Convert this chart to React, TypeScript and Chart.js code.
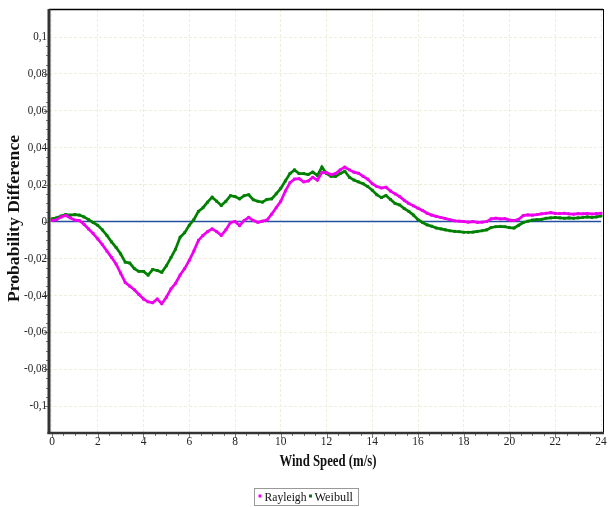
import React, { useEffect, useRef } from 'react';
import { Chart, registerables } from 'chart.js';

Chart.register(...registerables);

const windSpeed = [
  0, 0.2, 0.4, 0.6, 0.8, 1, 1.2, 1.4, 1.6, 1.8,
  2, 2.2, 2.4, 2.6, 2.8, 3, 3.2, 3.4, 3.6, 3.8,
  4, 4.2, 4.4, 4.6, 4.8, 5, 5.2, 5.4, 5.6, 5.8,
  6, 6.2, 6.4, 6.6, 6.8, 7, 7.2, 7.4, 7.6, 7.8,
  8, 8.2, 8.4, 8.6, 8.8, 9, 9.2, 9.4, 9.6, 9.8,
  10, 10.2, 10.4, 10.6, 10.8, 11, 11.2, 11.4, 11.6, 11.8,
  12, 12.2, 12.4, 12.6, 12.8, 13, 13.2, 13.4, 13.6, 13.8,
  14, 14.2, 14.4, 14.6, 14.8, 15, 15.2, 15.4, 15.6, 15.8,
  16, 16.2, 16.4, 16.6, 16.8, 17, 17.2, 17.4, 17.6, 17.8,
  18, 18.2, 18.4, 18.6, 18.8, 19, 19.2, 19.4, 19.6, 19.8,
  20, 20.2, 20.4, 20.6, 20.8, 21, 21.2, 21.4, 21.6, 21.8,
  22, 22.2, 22.4, 22.6, 22.8, 23, 23.2, 23.4, 23.6, 23.8,
  24,
];

const rayleigh = [
  0.0005, 0.001, 0.0025, 0.0033, 0.002, 0.0008, 0.0005, -0.0015, -0.004, -0.0065,
  -0.0094, -0.0125, -0.016, -0.0194, -0.023, -0.028, -0.033, -0.035, -0.037, -0.0395,
  -0.042, -0.0435, -0.044, -0.042, -0.0445, -0.041, -0.0365, -0.0335, -0.029, -0.0255,
  -0.021, -0.016, -0.0102, -0.0075, -0.0055, -0.004, -0.0055, -0.0075, -0.0045, -0.0005,
  0.0, -0.0022, 0.0005, 0.0023, 0.0005, -0.0004, 0.0002, 0.0008, 0.004, 0.0075,
  0.011, 0.0165, 0.021, 0.023, 0.0232, 0.0215, 0.022, 0.024, 0.0225, 0.0265,
  0.0265, 0.0255, 0.026, 0.028, 0.0295, 0.028, 0.0268, 0.0262, 0.0245, 0.023,
  0.0205, 0.019, 0.0182, 0.0186, 0.0165, 0.015, 0.0135, 0.0115, 0.0098, 0.0085,
  0.0072, 0.006, 0.0045, 0.0035, 0.0028, 0.0022, 0.0016, 0.001, 0.0004, 0.0002,
  0.0, -0.0003, 0.0, -0.0004, -0.0003, 0.0, 0.0015, 0.0018, 0.0015, 0.0016,
  0.0008, 0.0006, 0.0012, 0.0032, 0.0036, 0.0035, 0.0038, 0.0042, 0.0045, 0.0048,
  0.0044, 0.0043, 0.0045, 0.0042, 0.004, 0.0043, 0.0042, 0.0044, 0.0041, 0.0043,
  0.0045,
];

const weibull = [
  0.0015, 0.002, 0.003, 0.0038, 0.0035, 0.0038, 0.0035, 0.0025, 0.001, -0.0005,
  -0.002, -0.0045, -0.0075, -0.011, -0.014, -0.0175, -0.022, -0.0225, -0.0255, -0.027,
  -0.027, -0.029, -0.026, -0.0265, -0.0275, -0.024, -0.0195, -0.015, -0.0085, -0.006,
  -0.002, 0.001, 0.0055, 0.0075, 0.0105, 0.0132, 0.011, 0.0087, 0.011, 0.014,
  0.0135, 0.0123, 0.014, 0.0145, 0.0118, 0.011, 0.0105, 0.012, 0.0123, 0.015,
  0.018, 0.022, 0.026, 0.028, 0.026, 0.026, 0.0255, 0.0268, 0.025, 0.0295,
  0.026, 0.0245, 0.0245, 0.026, 0.0273, 0.024, 0.0225, 0.0215, 0.0205, 0.019,
  0.017, 0.0145, 0.013, 0.0141, 0.012, 0.0098, 0.009, 0.007, 0.0055, 0.0035,
  0.001, -0.0005, -0.0018, -0.0025, -0.0035, -0.004, -0.0045, -0.005, -0.0053, -0.0055,
  -0.0058, -0.0058, -0.0057, -0.0053, -0.005, -0.0045, -0.0032, -0.0028, -0.0026, -0.0028,
  -0.0033, -0.0035, -0.002, -0.0005, 0.0002, 0.0008, 0.001, 0.0012, 0.0018, 0.002,
  0.0022, 0.002, 0.0018, 0.002, 0.0018, 0.002, 0.0022, 0.0025, 0.0022, 0.0025,
  0.003,
];

const xTicks = [0, 2, 4, 6, 8, 10, 12, 14, 16, 18, 20, 22, 24];
const yTicks = [-0.1, -0.08, -0.06, -0.04, -0.02, 0, 0.02, 0.04, 0.06, 0.08, 0.1];
const seriesNames = ['Rayleigh', 'Weibull'];
const seriesColors = ['#ee00ee', '#008000'];
const xTitle = 'Wind Speed (m/s)';
const yTitle = 'Probability Difference';

const SERIF = '"Liberation Serif", "DejaVu Serif", serif';

function drawFit(ctx: CanvasRenderingContext2D, text: string, x: number, y: number, align: 'left' | 'center' | 'right', sx: number) {
  ctx.save();
  ctx.translate(x, y);
  ctx.scale(sx, 1);
  ctx.textAlign = align;
  ctx.fillText(text, 0, 0);
  ctx.restore();
}

function drawWidth(ctx: CanvasRenderingContext2D, text: string, x: number, y: number, align: 'left' | 'center' | 'right', width: number) {
  const w = ctx.measureText(text).width;
  drawFit(ctx, text, x, y, align, width / w);
}

const decor = {
  id: 'decor',
  beforeDatasetsDraw(chart: any) {
    const { ctx, scales } = chart;
    const x = scales.x;
    const y = scales.y;
    ctx.save();
    ctx.strokeStyle = '#2450a0';
    ctx.lineWidth = 1.5;
    ctx.beginPath();
    ctx.moveTo(x.getPixelForValue(xTicks[0]), y.getPixelForValue(0));
    ctx.lineTo(x.getPixelForValue(xTicks[xTicks.length - 1]), y.getPixelForValue(0));
    ctx.stroke();
    ctx.restore();
  },
  afterDraw(chart: any) {
    const { ctx, chartArea, scales } = chart;
    const x = scales.x;
    const y = scales.y;
    const { left, right, top, bottom } = chartArea;
    ctx.save();
    // frame
    ctx.strokeStyle = '#000';
    ctx.lineWidth = 1.5;
    ctx.beginPath();
    ctx.moveTo(left, top + 0.5);
    ctx.lineTo(right, top + 0.5);
    ctx.stroke();
    ctx.lineWidth = 1;
    ctx.beginPath();
    ctx.moveTo(right + 0.5, top);
    ctx.lineTo(right + 0.5, bottom);
    ctx.stroke();
    // minor / major ticks
    ctx.strokeStyle = '#777';
    ctx.lineWidth = 1;
    for (let i = 0; i < yTicks.length - 1; i++) {
      const a = yTicks[i];
      const b = yTicks[i + 1];
      for (let k = 0; k < 4; k++) {
        const v = a + ((b - a) * k) / 4;
        const py = Math.round(y.getPixelForValue(v)) + 0.5;
        ctx.beginPath();
        ctx.moveTo(left - (k === 0 ? 5 : 3), py);
        ctx.lineTo(left, py);
        ctx.stroke();
      }
    }
    for (let i = 0; i < xTicks.length - 1; i++) {
      const a = xTicks[i];
      const b = xTicks[i + 1];
      for (let k = 0; k < 4; k++) {
        const v = a + ((b - a) * k) / 4;
        const px = Math.round(x.getPixelForValue(v)) + 0.5;
        ctx.beginPath();
        ctx.moveTo(px, bottom);
        ctx.lineTo(px, bottom + (k === 0 ? 5 : 3));
        ctx.stroke();
      }
    }
    // axes lines
    ctx.strokeStyle = '#333';
    ctx.lineWidth = 3;
    ctx.beginPath();
    ctx.moveTo(left, top);
    ctx.lineTo(left, bottom + 1);
    ctx.stroke();
    ctx.lineWidth = 2.5;
    ctx.beginPath();
    ctx.moveTo(left - 1.5, bottom);
    ctx.lineTo(right + 1, bottom);
    ctx.stroke();

    // tick labels
    ctx.fillStyle = '#222';
    ctx.font = `12px ${SERIF}`;
    ctx.textBaseline = 'middle';
    yTicks.forEach((v) => {
      const label = v === 0 ? '0' : String(v).replace('.', ',');
      drawFit(ctx, label, left - 2, y.getPixelForValue(v), 'right', 0.92);
    });
    xTicks.forEach((v) => {
      drawFit(ctx, String(v), x.getPixelForValue(v), bottom + 8.5, 'center', 0.95);
    });

    // titles
    ctx.fillStyle = '#111';
    ctx.font = `bold 16px ${SERIF}`;
    ctx.textBaseline = 'middle';
    drawWidth(ctx, xTitle, 328, 462, 'center', 97);
    ctx.save();
    ctx.translate(15, 218.5);
    ctx.rotate(-Math.PI / 2);
    drawWidth(ctx, yTitle, 0, 0, 'center', 167);
    ctx.restore();

    // legend
    ctx.fillStyle = '#fff';
    ctx.fillRect(254.5, 488.5, 104, 17);
    ctx.strokeStyle = '#999';
    ctx.lineWidth = 1;
    ctx.strokeRect(254.5, 488.5, 104, 17);
    const items = [
      { mx: 260, tx: 264.5, w: 42 },
      { mx: 310.5, tx: 314.5, w: 38.5 },
    ];
    ctx.font = `13px ${SERIF}`;
    items.forEach((it, i) => {
      ctx.fillStyle = seriesColors[i];
      ctx.fillRect(it.mx - 1.5, 494.5, 3, 3);
      ctx.fillStyle = '#111';
      drawWidth(ctx, seriesNames[i], it.tx, 497.5, 'left', it.w);
    });
    ctx.restore();
  },
};

export default function App() {
  const ref = useRef<HTMLCanvasElement | null>(null);
  useEffect(() => {
    if (!ref.current) return;
    const series = [rayleigh, weibull];
    const chart = new Chart(ref.current, {
      type: 'scatter',
      data: {
        datasets: series.map((vals, i) => ({
          label: seriesNames[i],
          data: windSpeed.map((w, j) => ({ x: w, y: vals[j] })),
          borderColor: seriesColors[i],
          backgroundColor: seriesColors[i],
          borderWidth: 2.7,
          showLine: true,
          tension: 0,
          pointRadius: 2,
          pointStyle: 'rect',
          pointBorderWidth: 0,
        })),
      },
      options: {
        animation: false,
        responsive: false,
        events: [],
        layout: { padding: { top: 9, right: 6, left: 0, bottom: 0 } },
        plugins: { legend: { display: false }, tooltip: { enabled: false } },
        scales: {
          x: {
            type: 'linear',
            min: -0.131,
            max: 24.087,
            afterBuildTicks: (s: any) => {
              s.ticks = xTicks.map((v) => ({ value: v }));
            },
            afterFit: (s: any) => {
              s.height = 74;
            },
            ticks: { display: false },
            grid: { color: '#efeedd', drawTicks: false, lineWidth: 1 },
            border: { display: false, dash: [3, 2] },
          },
          y: {
            type: 'linear',
            min: -0.1146,
            max: 0.1152,
            afterBuildTicks: (s: any) => {
              s.ticks = yTicks.map((v) => ({ value: v }));
            },
            afterFit: (s: any) => {
              s.width = 49;
            },
            ticks: { display: false },
            grid: { color: '#efeedd', drawTicks: false, lineWidth: 1 },
            border: { display: false, dash: [3, 2] },
          },
        },
      },
      plugins: [decor],
    } as any);
    return () => chart.destroy();
  }, []);
  return (
    <div style={{ position: 'fixed', left: 0, top: 0, width: 609, height: 507, background: '#fff' }}>
      <canvas ref={ref} width={609} height={507} style={{ display: 'block' }} />
    </div>
  );
}
